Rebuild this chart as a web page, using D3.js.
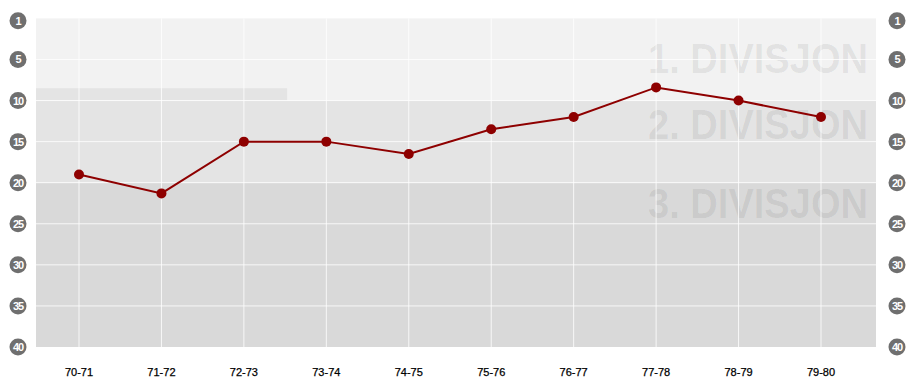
<!DOCTYPE html>
<html>
<head>
<meta charset="utf-8">
<script src="https://cdn.jsdelivr.net/npm/d3@7"></script>
<style>
  body { margin: 0; background: #fff; }
  svg { display: block; }
</style>
</head>
<body>
<svg id="chart" width="924" height="391"></svg>
<script>
var seasons = ["70-71", "71-72", "72-73", "73-74", "74-75", "75-76", "76-77", "77-78", "78-79", "79-80"]
var ranks = [19, 21.3, 15, 15, 16.5, 13.5, 12, 8.4, 10, 12]
var yTicks = [1, 5, 10, 15, 20, 25, 30, 35, 40]
var divisions = ["1. DIVISJON", "2. DIVISJON", "3. DIVISJON"]
var divTop = [0, 10, 20]
var divBottom = [10, 20, 40]
// first seasons had a smaller top division
var oldDivSeasons = ["70-71", "71-72", "72-73"]
var oldDivTop = 8.5

var plotLeft = 36, plotRight = 876, plotTop = 18.4, plotBottom = 347

var svg = d3.select("#chart")

var x = d3.scalePoint().domain(seasons).range([79, 821])
var y = d3.scaleLinear().domain([0, 40]).range([plotTop, plotBottom])

var bandColors = ["#f2f2f2", "#e4e4e4", "#d9d9d9"]

svg.selectAll("rect.band")
  .data(divisions)
  .enter().append("rect")
  .attr("class", "band")
  .attr("x", plotLeft)
  .attr("width", plotRight - plotLeft)
  .attr("y", function(d, i) { return y(divTop[i]) })
  .attr("height", function(d, i) { return y(divBottom[i]) - y(divTop[i]) })
  .style("fill", function(d, i) { return bandColors[i] })

var step = x.step()
svg.append("rect")
  .attr("x", plotLeft)
  .attr("width", x(oldDivSeasons[oldDivSeasons.length - 1]) + step / 2 + 2 - plotLeft)
  .attr("y", y(oldDivTop))
  .attr("height", y(10) - y(oldDivTop))
  .style("fill", bandColors[1])

// division labels
var labelY = [6.6, 14.7, 24.3]
svg.selectAll("text.div")
  .data(divisions)
  .enter().append("text")
  .attr("class", "div")
  .attr("x", 868)
  .attr("y", function(d, i) { return y(labelY[i]) })
  .attr("text-anchor", "end")
  .attr("textLength", 220)
  .attr("lengthAdjust", "spacingAndGlyphs")
  .style("font-family", "Liberation Sans, Arial, sans-serif")
  .style("font-weight", "bold")
  .style("font-size", "42px")
  .style("fill", "#000")
  .style("fill-opacity", 0.075)
  .text(function(d) { return d })

// grid
svg.selectAll("line.hgrid")
  .data(yTicks.filter(function(v) { return v > 1 && v < 40 }))
  .enter().append("line")
  .attr("x1", plotLeft).attr("x2", plotRight)
  .attr("y1", function(d) { return y(d) }).attr("y2", function(d) { return y(d) })
  .style("stroke", "#fff").style("stroke-opacity", 0.8).style("stroke-width", 1)

svg.selectAll("line.vgrid")
  .data(seasons)
  .enter().append("line")
  .attr("x1", function(d) { return x(d) }).attr("x2", function(d) { return x(d) })
  .attr("y1", plotTop).attr("y2", plotBottom)
  .style("stroke", "#fff").style("stroke-opacity", 0.8).style("stroke-width", 1)

// y labels in circles, both sides
function tickY(v) { return v === 1 ? y(0.3) : y(v) }
;[18, 897].forEach(function(cx) {
  var g = svg.append("g").selectAll("g")
    .data(yTicks)
    .enter().append("g")
    .attr("transform", function(d) { return "translate(" + cx + "," + tickY(d) + ")" })
  g.append("circle").attr("r", 8.5).style("fill", "#6f6f6f")
  g.append("text")
    .attr("text-anchor", "middle")
    .attr("dy", "0.36em")
    .attr("letter-spacing", "-1")
    .style("font-family", "Liberation Sans, Arial, sans-serif")
    .style("font-weight", "bold")
    .style("font-size", "11px")
    .style("fill", "#fff")
    .text(function(d) { return d })
})

// x labels
svg.selectAll("text.xl")
  .data(seasons)
  .enter().append("text")
  .attr("class", "xl")
  .attr("x", function(d) { return x(d) })
  .attr("y", 376)
  .attr("text-anchor", "middle")
  .style("font-family", "Liberation Sans, Arial, sans-serif")
  .style("font-size", "11px")
  .style("fill", "#000")
  .style("stroke", "#000")
  .style("stroke-width", 0.25)
  .text(function(d) { return d })

// line
var line = d3.line()
  .x(function(d, i) { return x(seasons[i]) })
  .y(function(d) { return y(d) })

svg.append("path")
  .datum(ranks)
  .attr("d", line)
  .style("fill", "none")
  .style("stroke", "#8e0000")
  .style("stroke-width", 2)

svg.selectAll("circle.pt")
  .data(ranks)
  .enter().append("circle")
  .attr("class", "pt")
  .attr("cx", function(d, i) { return x(seasons[i]) })
  .attr("cy", function(d) { return y(d) })
  .attr("r", 5)
  .style("fill", "#8e0000")
</script>
</body>
</html>
